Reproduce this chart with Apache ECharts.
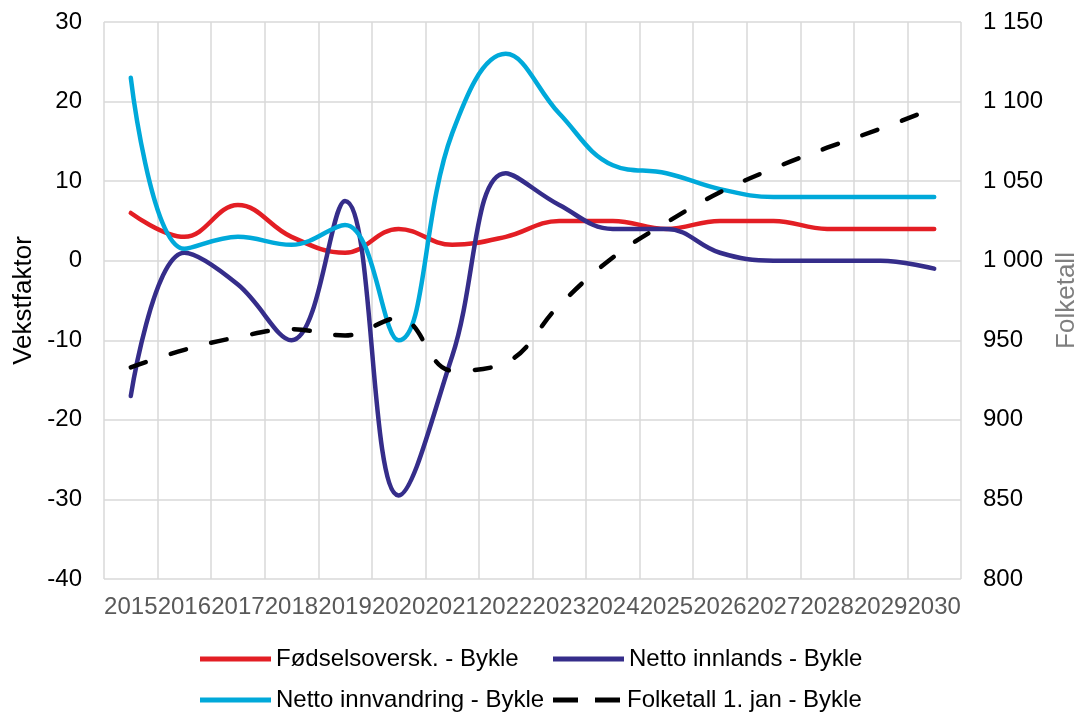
<!DOCTYPE html>
<html>
<head>
<meta charset="utf-8">
<script src="https://cdn.jsdelivr.net/npm/echarts@6/dist/echarts.min.js"></script>
<style>
html,body{margin:0;padding:0;background:#fff;}
#c{width:1081px;height:712px;}
</style>
</head>
<body>
<div id="c"></div>
<script>
const years = ['2015','2016','2017','2018','2019','2020','2021','2022','2023','2024','2025','2026','2027','2028','2029','2030'];
const fodselsoverskudd = [6, 3, 7, 3, 1, 4, 2, 3, 5, 5, 4, 5, 5, 4, 4, 4];
const nettoInnlands = [-17, 1, -3, -10, 7.5, -29.5, -12, 11, 7, 4, 4, 1, 0, 0, 0, -1];
const nettoInnvandring = [23, 1.5, 3, 2, 4.5, -10, 16, 26, 18.5, 12, 11, 9, 8, 8, 8, 8];
const folketall = [933, 944, 952, 957, 953, 964, 931, 936, 972, 1002, 1024, 1043, 1058, 1071, 1083, 1096];
const seriesNames = ['Fødselsoversk. - Bykle', 'Netto innlands - Bykle', 'Netto innvandring - Bykle', 'Folketall 1. jan - Bykle'];

const FONT = 'Liberation Sans, Arial, sans-serif';
const chart = echarts.init(document.getElementById('c'), null, {renderer: 'canvas'});

function fmtThousands(v) {
  if (Math.abs(v) >= 1000) {
    const t = Math.floor(v / 1000);
    const r = String(v % 1000).padStart(3, '0');
    return t + ' ' + r;
  }
  return String(v);
}

const dashIcon = 'path://M0,0h25v5h-25z M42,0h25v5h-25z';
const lineW = 4.5;
const FS = 24;

function legendItem(name, icon, left, top) {
  return {
    data: [{name: name, icon: icon}],
    left: left, top: top,
    padding: 0,
    itemWidth: 71, itemHeight: 5,
    textStyle: {fontSize: FS, color: '#000', fontFamily: FONT}
  };
}

chart.setOption({
  animation: false,
  backgroundColor: '#ffffff',
  textStyle: {fontFamily: FONT},
  grid: {left: 104, right: 120, top: 22, bottom: 133, containLabel: false, outerBoundsMode: 'none'},
  legend: [
    legendItem(seriesNames[0], 'rect', 200, 647),
    legendItem(seriesNames[1], 'rect', 553, 647),
    legendItem(seriesNames[2], 'rect', 200, 688),
    legendItem(seriesNames[3], dashIcon, 553, 688)
  ],
  xAxis: {
    type: 'category',
    data: years,
    boundaryGap: true,
    axisLine: {show: false},
    axisTick: {show: false},
    axisLabel: {fontSize: FS, color: '#595959', margin: 16, interval: 0, fontFamily: FONT},
    splitLine: {show: true, interval: 0, lineStyle: {color: '#d9d9d9', width: 1.5}}
  },
  yAxis: [
    {
      type: 'value',
      min: -40, max: 30, interval: 10,
      name: 'Vekstfaktor',
      nameLocation: 'middle',
      nameGap: 60,
      nameRotate: 90,
      nameTextStyle: {fontSize: 26, color: '#000', fontFamily: FONT},
      axisLine: {show: false},
      axisTick: {show: false},
      axisLabel: {fontSize: FS, color: '#000', margin: 22, fontFamily: FONT},
      splitLine: {show: true, lineStyle: {color: '#d9d9d9', width: 1.5}}
    },
    {
      type: 'value',
      min: 800, max: 1150, interval: 50,
      position: 'right',
      name: 'Folketall',
      nameLocation: 'middle',
      nameGap: 91,
      nameRotate: 90,
      nameTextStyle: {fontSize: 26, color: '#7f7f7f', fontFamily: FONT},
      axisLine: {show: false},
      axisTick: {show: false},
      axisLabel: {fontSize: FS, color: '#000', margin: 22, fontFamily: FONT, formatter: fmtThousands},
      splitLine: {show: false}
    }
  ],
  series: [
    {
      name: seriesNames[0], type: 'line', data: fodselsoverskudd, yAxisIndex: 0,
      smooth: 0.4, symbol: 'none', color: '#E31E24',
      lineStyle: {width: lineW, color: '#E31E24', cap: 'round'}
    },
    {
      name: seriesNames[1], type: 'line', data: nettoInnlands, yAxisIndex: 0,
      smooth: 0.4, symbol: 'none', color: '#352D8A',
      lineStyle: {width: lineW, color: '#352D8A', cap: 'round'}
    },
    {
      name: seriesNames[2], type: 'line', data: nettoInnvandring, yAxisIndex: 0,
      smooth: 0.4, symbol: 'none', color: '#00A9DA',
      lineStyle: {width: lineW, color: '#00A9DA', cap: 'round'}
    },
    {
      name: seriesNames[3], type: 'line', data: folketall, yAxisIndex: 1,
      smooth: 0.4, symbol: 'none', color: '#000000',
      lineStyle: {width: lineW, color: '#000000', type: [16, 26], cap: 'round'}
    }
  ]
});
</script>
</body>
</html>
